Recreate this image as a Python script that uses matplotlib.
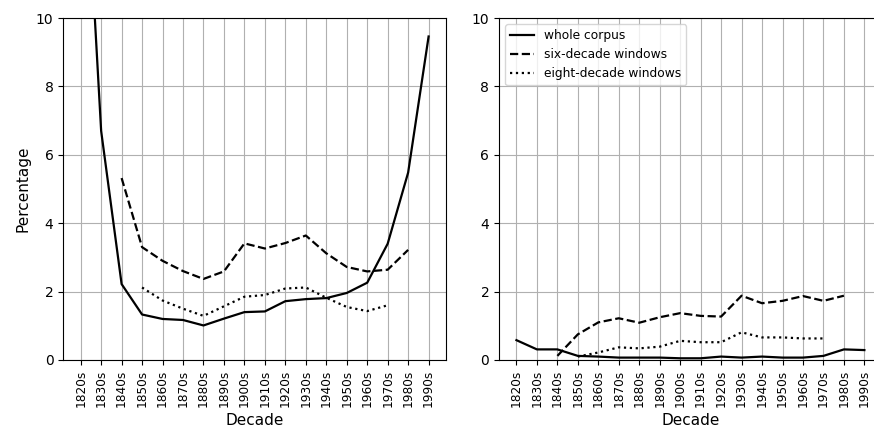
import matplotlib
matplotlib.use('Agg')
import matplotlib.pyplot as plt

# Decade labels shared by both panels
decades = ['1820s', '1830s', '1840s', '1850s', '1860s', '1870s', '1880s', '1890s', '1900s',
           '1910s', '1920s', '1930s', '1940s', '1950s', '1960s', '1970s', '1980s', '1990s']

# Left panel
left_whole = [17.4, 6.7, 2.22, 1.33, 1.2, 1.17, 1.01, 1.21, 1.40, 1.42, 1.72, 1.78, 1.81,
              1.96, 2.26, 3.4, 5.48, 9.46]
left_six = [None, None, 5.32, 3.3, 2.9, 2.6, 2.37, 2.59, 3.41, 3.26, 3.42, 3.64, 3.12,
            2.72, 2.59, 2.64, 3.22, None]
left_eight = [None, None, None, 2.12, 1.74, 1.5, 1.29, 1.57, 1.85, 1.9, 2.09, 2.12, 1.82,
              1.55, 1.43, 1.6, None, None]

# Right panel
right_whole = [0.58, 0.31, 0.31, 0.12, 0.1, 0.07, 0.07, 0.07, 0.05, 0.05, 0.1, 0.07, 0.1,
               0.07, 0.07, 0.12, 0.31, 0.29]
right_six = [None, None, 0.12, 0.75, 1.1, 1.22, 1.09, 1.25, 1.37, 1.29, 1.27, 1.88, 1.66,
             1.73, 1.87, 1.73, 1.88, None]
right_eight = [None, None, None, 0.1, 0.22, 0.37, 0.34, 0.39, 0.56, 0.52, 0.52, 0.81, 0.66,
               0.66, 0.63, 0.63, None, None]


def draw(ax, whole, six, eight):
    x = list(range(len(decades)))
    ax.plot(x, whole, color='black', linestyle='-', lw=1.6, label='whole corpus')
    ax.plot(x, [float('nan') if v is None else v for v in six], color='black',
            linestyle='--', lw=1.6, label='six-decade windows')
    ax.plot(x, [float('nan') if v is None else v for v in eight], color='black',
            linestyle=':', lw=1.6, label='eight-decade windows')
    ax.set_xticks(x)
    ax.set_xticklabels(decades, rotation=90, fontsize=8.7)
    ax.set_ylim(0, 10)
    ax.set_xlabel('Decade', fontsize=11)
    ax.grid(True)


fig = plt.figure(figsize=(8.74, 4.3), dpi=100)
ax1 = fig.add_axes([0.0724, 0.1628, 0.4379, 0.7953])
ax2 = fig.add_axes([0.571, 0.1628, 0.4379, 0.7953])

draw(ax1, left_whole, left_six, left_eight)
ax1.set_ylabel('Percentage', fontsize=11)
draw(ax2, right_whole, right_six, right_eight)
ax2.legend(loc='upper left', fontsize=8.8)

fig.savefig('out.png', dpi=100)
